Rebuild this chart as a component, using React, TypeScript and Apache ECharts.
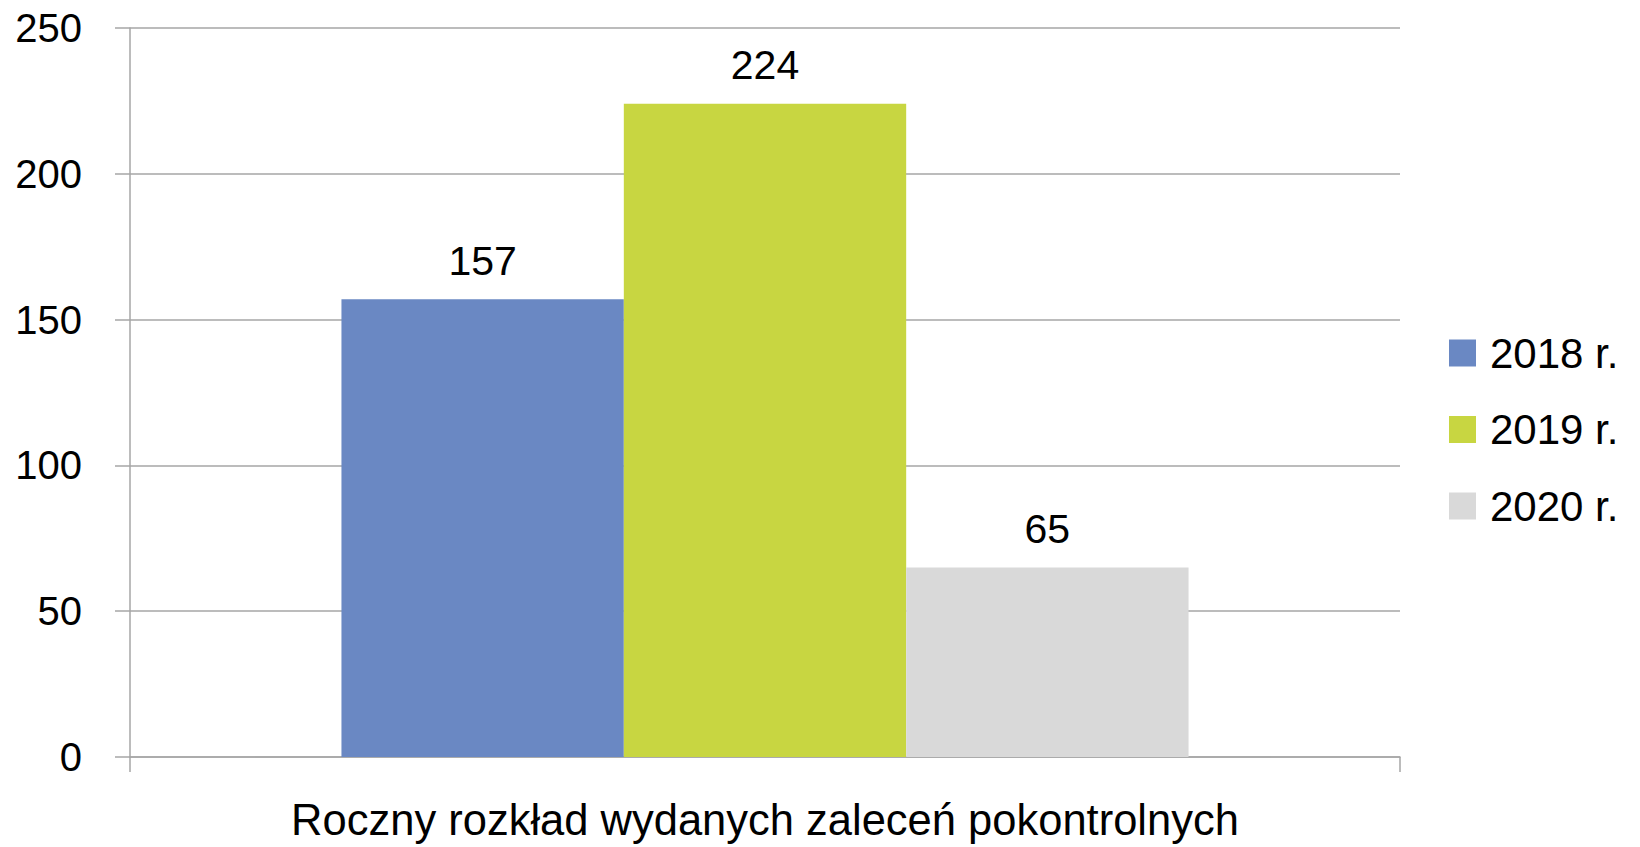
import React, { useEffect, useRef } from "react";
import * as echarts from "echarts";

const categories = ["Roczny rozkład wydanych zaleceń pokontrolnych"];
const seriesNames = ["2018 r.", "2019 r.", "2020 r."];
const values2018 = [157];
const values2019 = [224];
const values2020 = [65];
const colors = ["#6A88C3", "#C8D641", "#D9D9D9"];
const yTicks = { min: 0, max: 250, interval: 50 };

const FONT = "'Liberation Sans', Arial, sans-serif";

export default function App() {
  const ref = useRef<HTMLDivElement>(null);
  useEffect(() => {
    document.body.style.margin = "0";
    if (!ref.current) return;
    const chart = echarts.init(ref.current, null, { renderer: "svg" });
    const data = [values2018, values2019, values2020];
    chart.setOption({
      animation: false,
      backgroundColor: "#ffffff",
      textStyle: { fontFamily: FONT },
      grid: { left: 130, right: 240, top: 28, bottom: 85, containLabel: false },
      legend: {
        orient: "vertical",
        left: 1449,
        top: 332,
        padding: 0,
        itemWidth: 27,
        itemHeight: 27,
        itemGap: 34.5,
        icon: "rect",
        data: seriesNames,
        textStyle: {
          fontFamily: FONT,
          fontSize: 42,
          color: "#000",
          lineHeight: 40,
          padding: [0, 0, 0, 9],
        },
      },
      xAxis: {
        type: "category",
        data: categories,
        name: categories[0],
        nameLocation: "middle",
        nameGap: 41,
        nameTextStyle: { fontFamily: FONT, fontSize: 43.5, color: "#000" },
        axisLine: { show: true, lineStyle: { color: "#A6A6A6", width: 1.5 } },
        axisTick: { show: true, length: 15, lineStyle: { color: "#A6A6A6", width: 1.5 } },
        axisLabel: { show: false },
      },
      yAxis: {
        type: "value",
        min: yTicks.min,
        max: yTicks.max,
        interval: yTicks.interval,
        axisLine: { show: true, lineStyle: { color: "#A6A6A6", width: 1.5 } },
        axisTick: { show: true, length: 15, lineStyle: { color: "#A6A6A6", width: 1.5 } },
        axisLabel: { margin: 48, fontFamily: FONT, fontSize: 40, color: "#000" },
        splitLine: { show: true, lineStyle: { color: "#A6A6A6", width: 1.5 } },
      },
      series: seriesNames.map((name, i) => ({
        name,
        type: "bar",
        data: data[i],
        barGap: "0%",
        barCategoryGap: "33.3%",
        itemStyle: { color: colors[i] },
        label: {
          show: true,
          position: "top",
          distance: 18,
          fontFamily: FONT,
          fontSize: 41,
          color: "#000",
        },
      })),
    });
    return () => chart.dispose();
  }, []);
  return <div ref={ref} style={{ width: 1640, height: 847 }} />;
}
